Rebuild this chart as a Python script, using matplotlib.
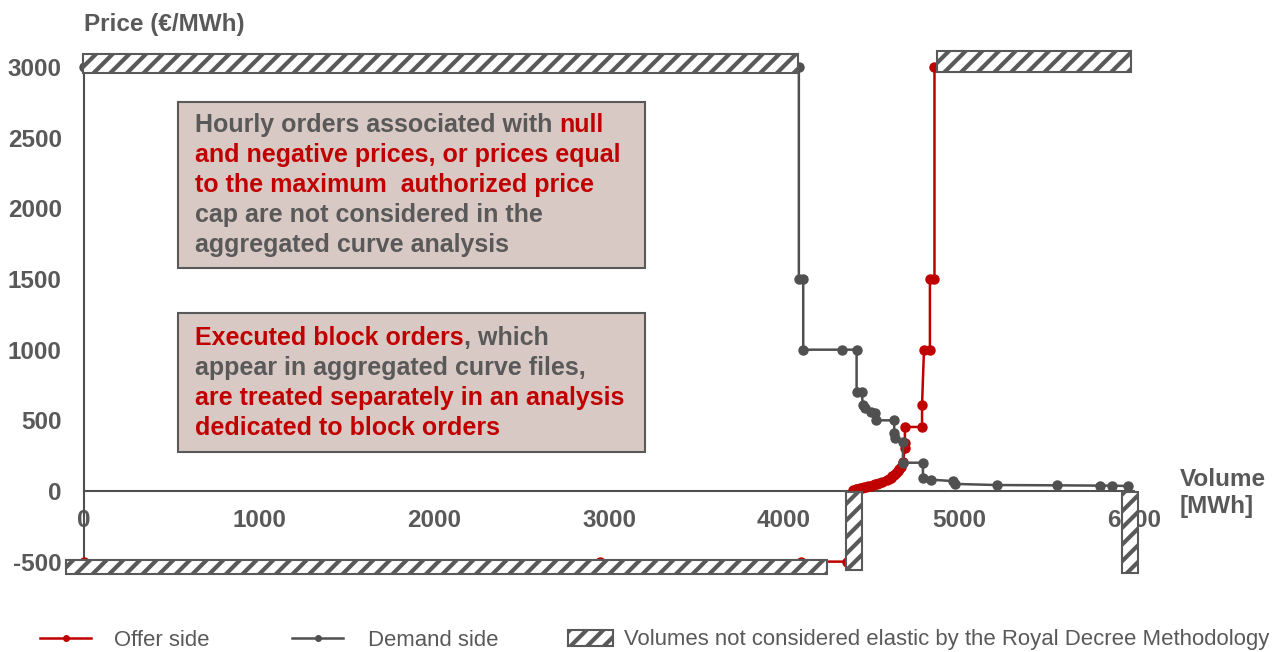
import matplotlib.pyplot as plt
from matplotlib.lines import Line2D
from matplotlib.patches import Patch, Rectangle

plt.rcParams["font.family"] = ["Liberation Sans", "DejaVu Sans"]
plt.rcParams["hatch.linewidth"] = 3.0
plt.rcParams["axes.unicode_minus"] = False

GRAY = "#595959"
LINE_GRAY = "#505050"
RED = "#c00000"
BOX_FILL = "#d9c9c5"

# offer side (volume MWh, price EUR/MWh)
offer_volume = [0, 2950, 4100, 4360, 4394, 4410, 4420, 4432, 4445, 4458, 4470, 4483,
                4495, 4508, 4520, 4533, 4545, 4560, 4589, 4600, 4610, 4620, 4630,
                4640, 4650, 4660, 4670, 4680, 4691, 4691, 4691, 4789, 4789,
                4800, 4834, 4834, 4860, 4860]
offer_price = [-500, -500, -500, -500, 7, 11, 15, 18, 22, 26, 30, 34,
               38, 42, 46, 50, 55, 62, 75, 85, 95, 105, 115,
               128, 140, 155, 170, 205, 304, 340, 453, 453, 609,
               1000, 1000, 1500, 1500, 3000]

# demand side
demand_volume = [0, 4085, 4085, 4110, 4110, 4330, 4415, 4415, 4445, 4450, 4465, 4500,
                 4520, 4525, 4630, 4630, 4635, 4680, 4680, 4794, 4794, 4840, 4966,
                 4975, 5217, 5560, 5806, 5874, 5966]
demand_price = [3000, 3000, 1500, 1500, 1000, 1000, 1000, 700, 700, 610, 590, 560,
                550, 500, 500, 410, 375, 350, 200, 200, 95, 80, 70,
                50, 42, 40, 38, 38, 35]

# volumes not considered elastic: (x0, x1, y0, y1)
excl_x0 = [-6, 4874, -103, 4354, 5931]
excl_x1 = [4080, 5983, 4246, 4446, 6023]
excl_y0 = [2958, 2965, -587, -559, -580]
excl_y1 = [3092, 3114, -488, -7, -7]

x_ticks = [0, 1000, 2000, 3000, 4000, 5000, 6000]
y_ticks = [-500, 0, 500, 1000, 1500, 2000, 2500, 3000]

box1_lines = [
    [("Hourly orders associated with ", GRAY), ("null", RED)],
    [("and negative prices, or prices equal", RED)],
    [("to the maximum  authorized price", RED)],
    [("cap are not considered in the", GRAY)],
    [("aggregated curve analysis", GRAY)],
]
box2_lines = [
    [("Executed block orders", RED), (", which", GRAY)],
    [("appear in aggregated curve files,", GRAY)],
    [("are treated separately in an analysis", RED)],
    [("dedicated to block orders", RED)],
]


def rich_line(ax, x, y, parts, **kw):
    text, color = parts[0]
    t = ax.text(x, y, text, color=color, va="baseline", ha="left", **kw)
    for text, color in parts[1:]:
        t = ax.annotate(text, xy=(1, 0), xycoords=t, va="bottom", ha="left",
                        color=color, **kw)
    return t


def text_box(ax, x0, x1, y0, y1, lines, x_text, y_first, step):
    ax.add_patch(Rectangle((x0, y0), x1 - x0, y1 - y0, facecolor=BOX_FILL,
                           edgecolor=GRAY, linewidth=1.5, zorder=5))
    for i, parts in enumerate(lines):
        rich_line(ax, x_text, y_first - i * step, parts, fontsize=18,
                  fontweight="bold", zorder=6)


fig = plt.figure(figsize=(12.81, 6.52), dpi=100)
ax = fig.add_axes([0.04508, 0.1126, 0.8538, 0.8127])
ax.set_xlim(-150, 6100)
ax.set_ylim(-620, 3130)

ax.plot(offer_volume, offer_price, color=RED, linewidth=1.8, marker="o",
        markersize=6.5, zorder=3)
ax.plot(demand_volume, demand_price, color=LINE_GRAY, linewidth=1.8, marker="o",
        markersize=6.5, zorder=3)

for x0, x1, y0, y1 in zip(excl_x0, excl_x1, excl_y0, excl_y1):
    ax.add_patch(Rectangle((x0, y0), x1 - x0, y1 - y0, facecolor="white",
                           edgecolor=GRAY, hatch="//", linewidth=1.5, zorder=4))

for side in ("top", "right"):
    ax.spines[side].set_visible(False)
ax.spines["left"].set_position(("data", 0))
ax.spines["bottom"].set_position(("data", 0))
ax.spines["left"].set_bounds(-500, 3000)
ax.spines["bottom"].set_bounds(0, 6000)
for side in ("left", "bottom"):
    ax.spines[side].set_color(LINE_GRAY)
    ax.spines[side].set_linewidth(1.5)

ax.set_xticks(x_ticks)
ax.set_yticks(y_ticks)
ax.tick_params(axis="x", length=0, pad=13, labelsize=17.5, labelcolor=GRAY)
ax.tick_params(axis="y", length=0, pad=16, labelsize=17.5, labelcolor=GRAY)
for lab in ax.get_xticklabels() + ax.get_yticklabels():
    lab.set_fontweight("bold")

text_box(ax, 540, 3206, 1578, 2752, box1_lines, 634, 2541, 212)
text_box(ax, 540, 3206, 276, 1260, box2_lines, 634, 1034, 212)

fig.text(84 / 1281, 1 - 25 / 652, "Price (€/MWh)", ha="left", va="center",
         fontsize=17.5, fontweight="bold", color=GRAY)
fig.text(1180 / 1281, 1 - 493 / 652, "Volume\n[MWh]", ha="left", va="center",
         fontsize=17.5, fontweight="bold", color=GRAY, linespacing=1.2)

# legend: three single-entry legends placed along the bottom
legend_items = [
    (Line2D([], [], color=RED, linewidth=1.8, marker="o", markersize=4),
     "Offer side", 40, 2.33, 1.0),
    (Line2D([], [], color=LINE_GRAY, linewidth=1.8, marker="o", markersize=4),
     "Demand side", 292, 2.33, 1.1),
    (Patch(facecolor="white", edgecolor=GRAY, hatch="//", linewidth=1.5),
     "Volumes not considered elastic by the Royal Decree Methodology", 568, 2.05, 0.47),
]
for handle, label, x_px, hlen, hpad in legend_items:
    leg = fig.legend([handle], [label], loc="center left",
                     bbox_to_anchor=(x_px / 1281, 1 - 640 / 652), frameon=False,
                     fontsize=15.9, labelcolor=GRAY, borderpad=0, borderaxespad=0,
                     handlelength=hlen, handletextpad=hpad)

fig.savefig("out.png", dpi=100)
